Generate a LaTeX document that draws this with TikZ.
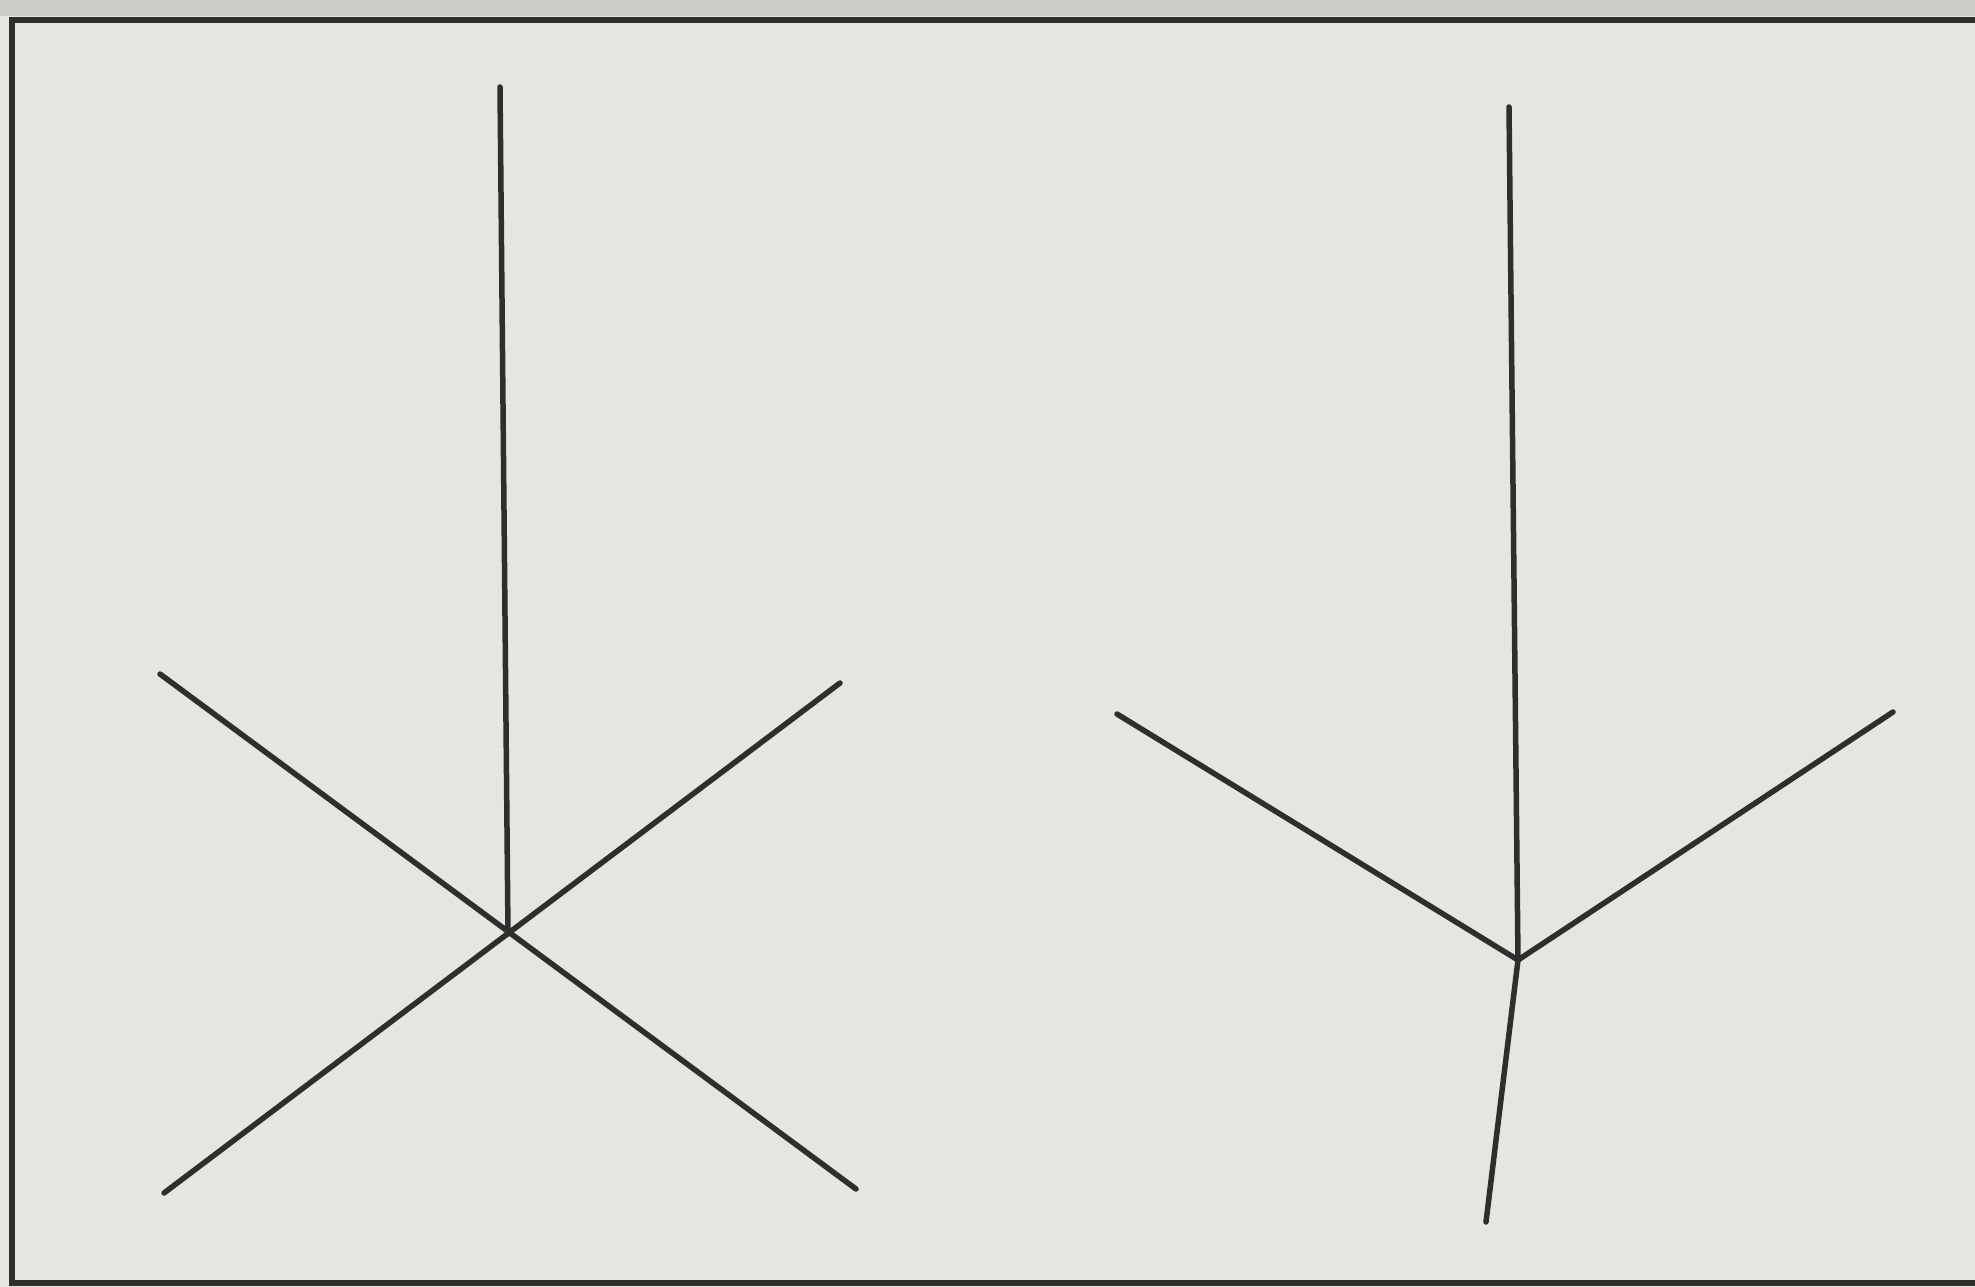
\documentclass[tikz,border=0pt]{standalone}
\definecolor{paper}{RGB}{229,230,226}
\definecolor{strip}{RGB}{205,206,202}
\definecolor{ink}{RGB}{45,47,45}
\begin{document}
\begin{tikzpicture}[x=1pt,y=-1pt,
  stroke/.style={draw=ink,line width=5.5pt,line cap=round},
  framebox/.style={draw=ink,line width=6pt}]
\fill[paper] (0,0) rectangle (1975,1287);
\useasboundingbox (0,0) rectangle (1975,1287);
\fill[strip] (0,0) rectangle (1975,16);
\draw[framebox] (1990,20) -- (12,20) -- (12,1283) -- (1990,1283);
% left figure
\coordinate (c1) at (508,934);
\coordinate (t1) at (500,87);
\coordinate (ul1) at (160,674);
\coordinate (ur1) at (840,683);
\coordinate (ll1) at (164,1193);
\coordinate (lr1) at (856,1189);
\draw[stroke] (c1) -- (t1);
\draw[stroke] (ul1) -- (lr1);
\draw[stroke] (ur1) -- (ll1);
% right figure
\coordinate (c2) at (1518,960);
\coordinate (t2) at (1509,107);
\coordinate (ul2) at (1117,714);
\coordinate (ur2) at (1893,712);
\coordinate (b2) at (1486,1222);
\draw[stroke] (c2) -- (t2);
\draw[stroke] (c2) -- (ul2);
\draw[stroke] (c2) -- (ur2);
\draw[stroke] (c2) -- (b2);
\end{tikzpicture}
\end{document}
